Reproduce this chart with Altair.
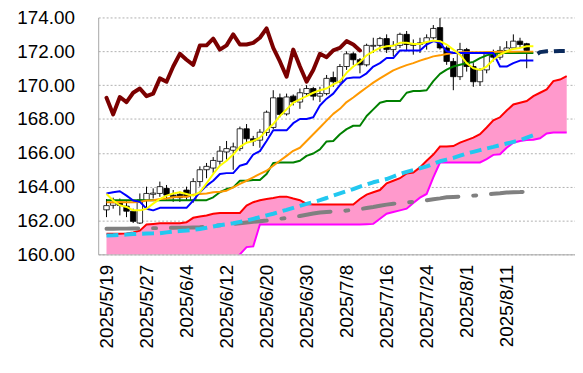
import altair as alt
import pandas as pd

# ---- categories (trading days) ----
dates = [f"{d.year}/{d.month}/{d.day}" for d in pd.bdate_range("2025-05-19", periods=70)]
tick_labels = ["2025/5/19", "2025/5/27", "2025/6/4", "2025/6/12", "2025/6/20", "2025/6/30",
               "2025/7/8", "2025/7/16", "2025/7/24", "2025/8/1", "2025/8/11"]

# ---- candles (index 0..63) ----
opens = [162.63,162.9,163.05,162.85,162.55,161.85,163.2,163.55,163.6,163.9,
         163.5,163.55,163.8,163.2,164.3,165.0,165.1,165.5,166.05,166.15,
         166.25,167.42,166.83,166.75,167.2,167.5,169.25,168.3,169.35,169.0,
         169.5,169.8,169.35,169.5,170.45,170.2,171.1,171.85,171.5,171.2,
         172.3,172.35,172.75,172.1,172.35,173.0,172.35,172.4,172.5,172.8,
         173.4,172.2,171.4,170.5,172.1,171.1,170.2,170.9,171.9,171.65,
         172.05,172.2,172.6,172.45]
closes = [162.88,163.05,162.9,162.55,161.95,163.22,163.6,163.62,164.0,163.5,
          163.4,163.35,163.4,164.3,165.0,165.2,165.55,166.1,166.25,166.35,
          167.42,166.83,166.7,167.22,168.4,169.25,168.27,169.3,169.0,169.55,
          169.8,169.35,169.5,170.4,170.2,171.1,171.85,171.5,171.2,172.35,
          172.35,172.75,172.1,172.35,173.0,172.4,172.42,172.5,172.8,173.35,
          172.2,171.4,170.5,172.1,171.1,170.2,170.9,171.85,171.65,172.05,
          172.2,172.6,172.4,172.05]
highs = [163.27,163.35,163.3,163.2,162.7,163.6,164.0,163.9,164.3,164.1,
         163.8,163.7,164.0,164.5,165.2,165.4,165.75,166.4,166.7,166.6,
         167.55,167.7,167.0,167.4,168.5,169.7,169.5,169.5,169.45,169.8,
         170.0,169.9,169.9,170.6,170.8,171.25,172.0,171.95,171.6,172.45,
         172.8,172.85,173.0,172.6,173.1,173.2,172.7,172.8,173.0,173.55,
         173.96,172.3,171.6,172.5,172.2,171.3,171.0,172.0,172.1,172.3,
         172.6,173.0,172.8,172.5]
lows = [162.2,162.7,162.3,162.2,161.85,161.8,162.7,163.3,163.4,163.2,
        163.1,163.1,163.2,163.05,164.0,164.5,164.8,165.3,165.6,165.0,
        166.1,166.6,166.4,166.3,167.0,167.4,168.1,168.2,168.8,168.6,
        169.3,169.1,169.0,169.4,169.9,170.1,170.9,171.2,170.7,171.1,
        171.9,172.0,171.9,171.7,172.2,172.0,171.8,171.9,172.1,172.7,
        172.1,171.2,169.7,170.3,170.8,169.9,169.95,170.7,171.4,171.5,
        171.9,172.1,172.2,171.0]

# ---- indicator lines (index 0..64) ----
tenkan = [163.6,163.67,163.73,163.47,163.18,163.1,162.7,162.6,162.75,162.75,
          162.75,162.75,162.75,163.18,163.67,164.06,164.35,164.75,164.8,164.8,
          165.24,165.35,165.9,166.1,166.7,167.33,167.33,167.33,167.75,168.0,
          168.0,168.1,168.8,169.2,169.5,170.0,170.4,170.45,170.45,170.7,
          171.1,171.3,171.6,171.6,172.05,172.05,172.05,172.05,172.4,172.6,
          172.5,172.0,171.9,171.9,171.9,171.9,171.9,171.9,171.9,171.1,
          171.1,171.3,171.45,171.45,171.45]
yellow = [163.57,163.18,162.9,162.8,162.6,162.6,162.7,163.0,163.27,163.47,
          163.6,163.67,163.57,163.47,163.67,164.2,164.75,165.24,165.53,165.9,
          166.35,166.6,166.7,166.9,167.33,167.7,168.18,168.57,168.96,169.16,
          169.35,169.55,169.7,169.8,170.04,170.24,170.73,171.1,171.37,171.76,
          172.0,172.2,172.3,172.33,172.5,172.5,172.43,172.43,172.55,172.63,
          172.6,172.4,172.1,171.8,171.3,171.0,170.9,171.1,171.5,171.8,
          172.0,172.14,172.2,172.3,172.3]
orange = [163.08,163.08,163.1,163.08,163.08,163.1,163.18,163.2,163.27,163.3,
          163.37,163.4,163.4,163.53,163.57,163.6,163.67,163.7,163.76,163.96,
          164.16,164.35,164.55,164.75,164.94,165.24,165.53,165.82,166.12,166.3,
          166.7,167.1,167.5,167.9,168.3,168.6,169.0,169.27,169.57,169.86,
          170.15,170.4,170.64,170.87,171.03,171.18,171.3,171.45,171.57,171.7,
          171.76,171.84,171.9,171.94,171.95,171.95,171.95,171.96,171.96,171.97,
          171.97,171.97,171.98,171.98,171.98]
kijun = [163.2,163.2,163.2,163.2,163.2,163.2,163.2,163.2,163.2,163.2,
         163.2,163.2,163.2,163.2,163.2,163.2,163.37,163.67,163.86,163.96,
         164.35,164.35,164.4,164.4,164.75,165.4,165.43,165.43,165.43,165.53,
         165.82,165.96,166.2,166.67,166.7,167.1,167.4,167.6,167.6,168.18,
         168.57,168.96,169.06,169.06,169.06,169.55,169.65,169.65,169.7,170.24,
         170.67,170.92,171.1,171.2,171.3,171.37,171.6,171.76,171.86,171.9,
         171.9,171.9,171.9,171.9,171.9]
cyan = [161.12,161.13,161.15,161.17,161.2,161.22,161.23,161.24,161.25,161.3,
        161.35,161.38,161.41,161.45,161.5,161.57,161.65,161.72,161.78,161.84,
        161.92,162.0,162.1,162.2,162.3,162.4,162.52,162.63,162.75,162.87,
        162.98,163.09,163.2,163.33,163.47,163.6,163.73,163.86,164.0,164.13,
        164.26,164.36,164.45,164.6,164.75,164.87,164.98,165.09,165.2,165.35,
        165.5,165.6,165.7,165.83,165.96,166.06,166.16,166.26,166.35,166.45,
        166.55,166.65,166.75,166.9,167.04]
gray = [161.51,161.51,161.52,161.52,161.53,161.53,161.54,161.55,161.55,161.56,
        161.57,161.58,161.58,161.59,161.6,161.64,161.68,161.72,161.76,161.8,
        161.84,161.88,161.92,161.96,162.0,162.05,162.1,162.15,162.2,162.27,
        162.34,162.41,162.47,162.5,162.53,162.55,162.59,162.63,162.67,162.74,
        162.8,162.87,162.94,162.99,163.04,163.07,163.1,163.14,163.2,163.26,
        163.31,163.37,163.39,163.41,163.43,163.47,163.5,163.54,163.58,163.61,
        163.65,163.67,163.68,163.7,163.72]

# ---- cloud spans (index 0..69) ----
span_a = [161.22,161.22,161.22,161.24,161.3,161.4,161.76,161.8,161.84,161.84,
          161.84,161.84,161.9,162.16,162.24,162.3,162.4,162.45,162.45,162.45,
          162.45,162.88,163.08,163.2,163.27,163.33,163.41,163.41,163.3,163.2,
          162.98,162.94,162.94,162.94,162.94,162.94,162.94,162.94,163.27,163.53,
          163.67,163.8,164.2,164.35,164.5,164.78,164.84,165.14,165.53,165.9,
          166.37,166.37,166.4,166.6,166.75,166.9,167.1,167.5,167.92,168.1,
          168.5,168.86,168.96,169.06,169.35,169.55,169.75,170.24,170.33,170.53]
span_b = [158.9,158.9,158.9,158.9,158.9,158.9,158.9,158.9,158.9,158.9,
          158.9,158.9,158.9,158.9,158.9,158.9,158.9,158.9,159.0,159.5,
          160.0,160.43,160.47,161.76,161.76,161.76,161.76,161.76,161.76,161.76,
          161.76,161.76,161.76,161.76,161.76,161.76,161.76,161.76,161.76,161.78,
          161.8,162.1,162.4,162.5,162.6,162.7,163.04,163.35,163.57,164.55,
          165.43,165.43,165.43,165.43,165.43,165.43,165.43,165.63,165.88,165.92,
          166.3,166.6,166.7,166.75,166.77,166.86,167.14,167.2,167.2,167.2]

# ---- lagging span (index 0..38) and forward line (index 64..69) ----
chikou = [169.25,168.27,169.3,169.0,169.55,169.8,169.35,169.5,170.4,170.2,
          171.1,171.85,171.5,171.2,172.35,172.35,172.75,172.1,172.35,173.0,
          172.4,172.4,172.5,172.8,173.35,172.2,171.4,170.5,172.1,171.1,
          170.2,170.9,171.85,171.65,172.05,172.2,172.6,172.4,172.05]
navy_start = 64
navy = [171.7, 171.95, 172.0, 172.0, 172.02, 172.02]

# ---------------------------------------------------------------
FONT = "Liberation Sans"
label_expr = "[" + ",".join(f"'{d}'" for d in dates) + "][datum.value]"
tick_idx = [dates.index(t) for t in tick_labels]

xs = alt.Scale(domain=[-0.5, len(dates) - 0.5], nice=False, zero=False)
ys = alt.Scale(domain=[160, 174], nice=False, zero=False)
x_axis = alt.Axis(values=tick_idx, labelExpr=label_expr, labelAngle=270, labelFont=FONT,
                  labelFontSize=19, labelColor="black", labelPadding=10, ticks=False,
                  grid=False, domainColor="#a6a6a6", title=None, labelOverlap=False)
y_axis = alt.Axis(values=list(range(160, 175, 2)), format=".2f", labelFont=FONT,
                  labelFontSize=19, labelColor="black", labelPadding=24, ticks=False,
                  grid=True, gridColor="#b0b0b0", gridDash=[2, 2], gridWidth=1,
                  domainColor="#a6a6a6", title=None)


def X(field="idx"):
    return alt.X(f"{field}:Q", scale=xs, axis=x_axis)


def Y(field="v"):
    return alt.Y(f"{field}:Q", scale=ys, axis=y_axis)


def series_df(vals, start=0):
    return pd.DataFrame({"idx": list(range(start, start + len(vals))), "v": vals})


def line(vals, color, width, dash=None, start=0, cap="butt", offset=None):
    kw = dict(color=color, strokeWidth=width, clip=True, strokeJoin="round", strokeCap=cap)
    if dash:
        kw["strokeDash"] = dash
    if offset is not None:
        kw["strokeDashOffset"] = offset
    return alt.Chart(series_df(vals, start)).mark_line(**kw).encode(x=X(), y=Y())


cloud_df = pd.DataFrame({"idx": list(range(len(span_a))), "a": span_a, "b": span_b})
cloud = alt.Chart(cloud_df).mark_area(color="#FF99CC", opacity=1, clip=True).encode(
    x=X(), y=Y("a"), y2="b")
red = alt.Chart(cloud_df).mark_line(color="#FF0000", strokeWidth=2, clip=True).encode(x=X(), y=Y("a"))
mag = alt.Chart(cloud_df).mark_line(color="#FF00FF", strokeWidth=2, clip=True).encode(x=X(), y=Y("b"))

cdf = pd.DataFrame({"idx": list(range(len(opens))), "o": opens, "c": closes, "h": highs, "l": lows})
cdf["up"] = cdf["c"] >= cdf["o"]
wicks = alt.Chart(cdf).mark_rule(color="black", strokeWidth=1, clip=True).encode(
    x=X(), y=Y("l"), y2="h")
bodies = alt.Chart(cdf).mark_bar(size=5.5, stroke="black", strokeWidth=0.8, clip=True).encode(
    x=X(), y=Y("o"), y2="c",
    fill=alt.condition("datum.up", alt.value("white"), alt.value("black")))

layers = [
    cloud, red, mag,
    line(gray, "#808080", 4, dash=[32, 15, 3, 15], cap="round"),
    line(cyan, "#22C8F0", 4, dash=[12, 6]),
    wicks, bodies,
    line(kijun, "#008000", 2),
    line(orange, "#FF9900", 2),
    line(tenkan, "#0000FF", 2),
    line(yellow, "#FFFF00", 2),
    line(chikou, "#7B0000", 4, cap="round"),
    line(navy, "#0B2A5C", 4, dash=[11, 6], start=navy_start, offset=12),
]

chart = alt.layer(*layers).properties(
    width=481, height=239,
    autosize=alt.AutoSizeParams(type="none"),
    padding={"left": 91, "top": 8, "right": 0, "bottom": 100},
).configure_view(strokeWidth=0)

chart.save("out.html", embed_options={"renderer": "svg", "actions": False})
